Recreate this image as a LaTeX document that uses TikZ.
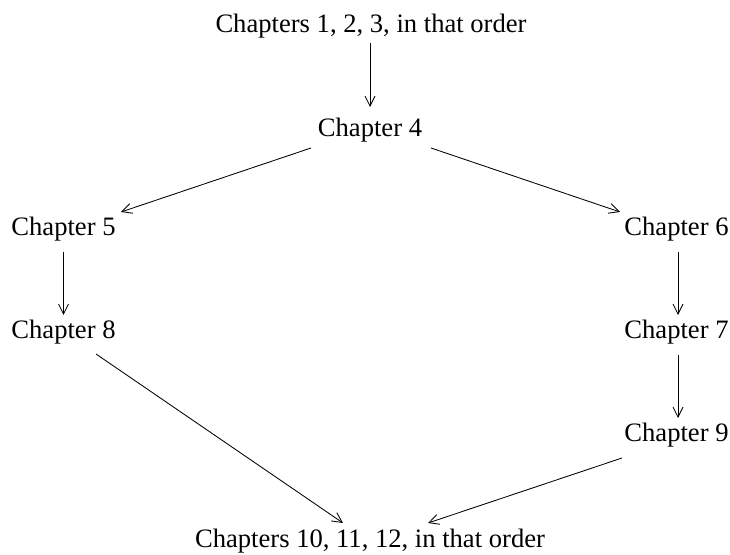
\documentclass[tikz,border=0pt]{standalone}
\usepackage{fontspec}
\setmainfont{Liberation Serif}
\usetikzlibrary{arrows.meta}
\begin{document}
\begin{tikzpicture}[x=1pt,y=1pt,
  chap/.style={anchor=base,inner sep=0pt,font=\fontsize{26.6pt}{32pt}\selectfont},
  link/.style={line width=0.85pt,-{Straight Barb[length=10pt,width=10pt,line width=0.85pt]}}]
\useasboundingbox (0,0) rectangle (730,554);
\node[chap] (top) at (371,521) {Chapters 1, 2, 3, in that order};
\node[chap] (c4) at (370,417) {Chapter 4};
\node[chap] (c5) at (63.5,318) {Chapter 5};
\node[chap] (c6) at (676.5,318) {Chapter 6};
\node[chap] (c8) at (63.5,215) {Chapter 8};
\node[chap] (c7) at (676.5,215) {Chapter 7};
\node[chap] (c9) at (676.5,112) {Chapter 9};
\node[chap] (bot) at (370,7) {Chapters 10, 11, 12, in that order};
\draw[link] ([xshift=-1pt,yshift=-10pt]top.base) -- ([yshift=30pt]c4.base);
\draw[link] ([xshift=-59pt,yshift=-11pt]c4.base) -- ([xshift=57.5pt,yshift=24pt]c5.base);
\draw[link] ([xshift=61pt,yshift=-11pt]c4.base) -- ([xshift=-56.5pt,yshift=24pt]c6.base);
\draw[link] ([yshift=-16pt]c5.base) -- ([yshift=24pt]c8.base);
\draw[link] ([xshift=1.5pt,yshift=-16pt]c6.base) -- ([xshift=1.5pt,yshift=24pt]c7.base);
\draw[link] ([xshift=1.5pt,yshift=-16pt]c7.base) -- ([xshift=1.5pt,yshift=24pt]c9.base);
\draw[link] ([xshift=32.5pt,yshift=-15pt]c8.base) -- ([xshift=-27pt,yshift=24pt]bot.base);
\draw[link] ([xshift=-54.5pt,yshift=-16pt]c9.base) -- ([xshift=58pt,yshift=24pt]bot.base);
\end{tikzpicture}
\end{document}
